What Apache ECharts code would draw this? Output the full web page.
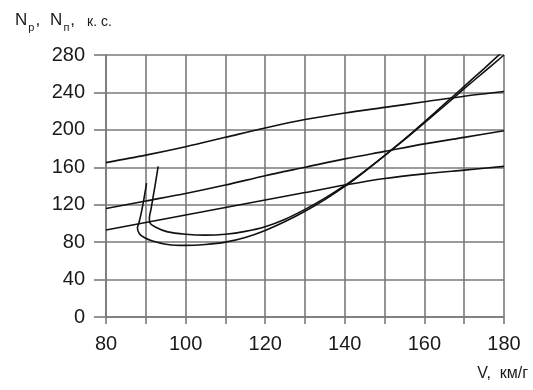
<!DOCTYPE html>
<html>
<head>
<meta charset="utf-8">
<script src="https://cdn.jsdelivr.net/npm/echarts@6/dist/echarts.min.js"></script>
<style>
  html, body { margin: 0; padding: 0; background: #fff; }
  #chart { width: 533px; height: 390px; }
</style>
</head>
<body>
<div id="chart"></div>
<script>
// скорость, км/ч (для располагаемой мощности)
const speeds = [80, 90, 100, 110, 120, 130, 140, 150, 160, 170, 180]
// располагаемая мощность Np, к.с.
const availTop = [165, 173, 182, 192, 202, 211, 218, 224, 230, 236, 241]
const availMid = [116, 124, 132, 141, 151, 160, 169, 177, 185, 192, 199]
const availLow = [93, 101, 109, 117, 125, 133, 141, 148, 153, 157, 161]
// потребная мощность Nп: [V, N]
const reqOuter = [
  [90.2, 143], [89.6, 128], [88.9, 112], [88.3, 101], [87.9, 95], [88.4, 89],
  [89.6, 85], [91.5, 81.5], [95.5, 77.5], [100, 76.5], [105, 77.5], [110, 80],
  [115, 85], [120, 92.5], [125, 102], [130, 113], [135, 125.5], [140, 139.5],
  [145, 155.5], [150, 172.5], [155, 190], [160, 208.5], [165, 227.5], [170, 246.5],
  [175, 265.5], [180, 285]
]
const reqInner = [
  [93.1, 161], [92.5, 145], [91.9, 130], [91.3, 115], [90.9, 106], [91, 101],
  [92.5, 96], [95.5, 91], [100, 88.5], [105, 87.5], [110, 88.5], [115, 91.5],
  [120, 96.5], [125, 104.5], [130, 115], [135, 127], [140, 140.5], [145, 156],
  [150, 172.5], [155, 189.5], [160, 207.5], [165, 225.5], [170, 244], [175, 262],
  [180, 280]
]

const chart = echarts.init(document.getElementById('chart'))

const lineStyle = { color: '#111', width: 1.6 }
const gridLine = { color: '#7a7a7a', width: 1.6 }
const font = 'Liberation Sans, Arial'

function pairs(ys) {
  return speeds.map((v, i) => [v, ys[i]])
}

const option = {
  animation: false,
  backgroundColor: '#fff',
  grid: { left: 106, right: 29, top: 55, bottom: 73, containLabel: false },
  xAxis: {
    type: 'value',
    min: 80,
    max: 180,
    interval: 10,
    axisLine: { show: true, lineStyle: gridLine },
    axisTick: { show: true, length: 7, lineStyle: gridLine },
    splitLine: { show: true, lineStyle: gridLine },
    axisLabel: {
      margin: 17,
      fontSize: 20,
      fontFamily: font,
      color: '#1a1a1a',
      formatter: (v) => (v % 20 === 0 ? String(v) : ''),
    },
  },
  yAxis: {
    type: 'value',
    min: 0,
    max: 280,
    interval: 40,
    axisLine: { show: true, lineStyle: gridLine },
    axisTick: { show: true, length: 12, lineStyle: gridLine },
    splitLine: { show: true, lineStyle: gridLine },
    axisLabel: {
      margin: 21,
      fontSize: 20,
      fontFamily: font,
      color: '#1a1a1a',
    },
  },
  graphic: [
    {
      type: 'text',
      left: 15,
      top: 12,
      style: {
        text: '{n|N}{s|р}{c|,}{n|N}{s|п}{c|,}{u|к. с.}',
        rich: {
          n: { fontSize: 17, fontFamily: font, fill: '#1a1a1a', verticalAlign: 'bottom' },
          s: { fontSize: 11, fontFamily: font, fill: '#1a1a1a', verticalAlign: 'bottom', padding: [0, 0, -4, 1] },
          c: { fontSize: 17, fontFamily: font, fill: '#1a1a1a', verticalAlign: 'bottom', padding: [0, 10, 0, 1] },
          u: { fontSize: 14, fontFamily: font, fill: '#1a1a1a', verticalAlign: 'bottom', padding: [0, 0, 0, 2] },
        },
      },
    },
    {
      type: 'text',
      right: 5,
      top: 366,
      style: {
        text: 'V,  км/г',
        fontSize: 16,
        fontFamily: font,
        fill: '#1a1a1a',
      },
    },
  ],
  series: [
    { type: 'line', data: pairs(availTop), smooth: 0.3, symbol: 'none', lineStyle },
    { type: 'line', data: pairs(availMid), smooth: 0.3, symbol: 'none', lineStyle },
    { type: 'line', data: pairs(availLow), smooth: 0.3, symbol: 'none', lineStyle },
    { type: 'line', data: reqOuter, smooth: 0.3, symbol: 'none', clip: true, lineStyle },
    { type: 'line', data: reqInner, smooth: 0.3, symbol: 'none', clip: true, lineStyle },
  ],
}

chart.setOption(option)
</script>
</body>
</html>
